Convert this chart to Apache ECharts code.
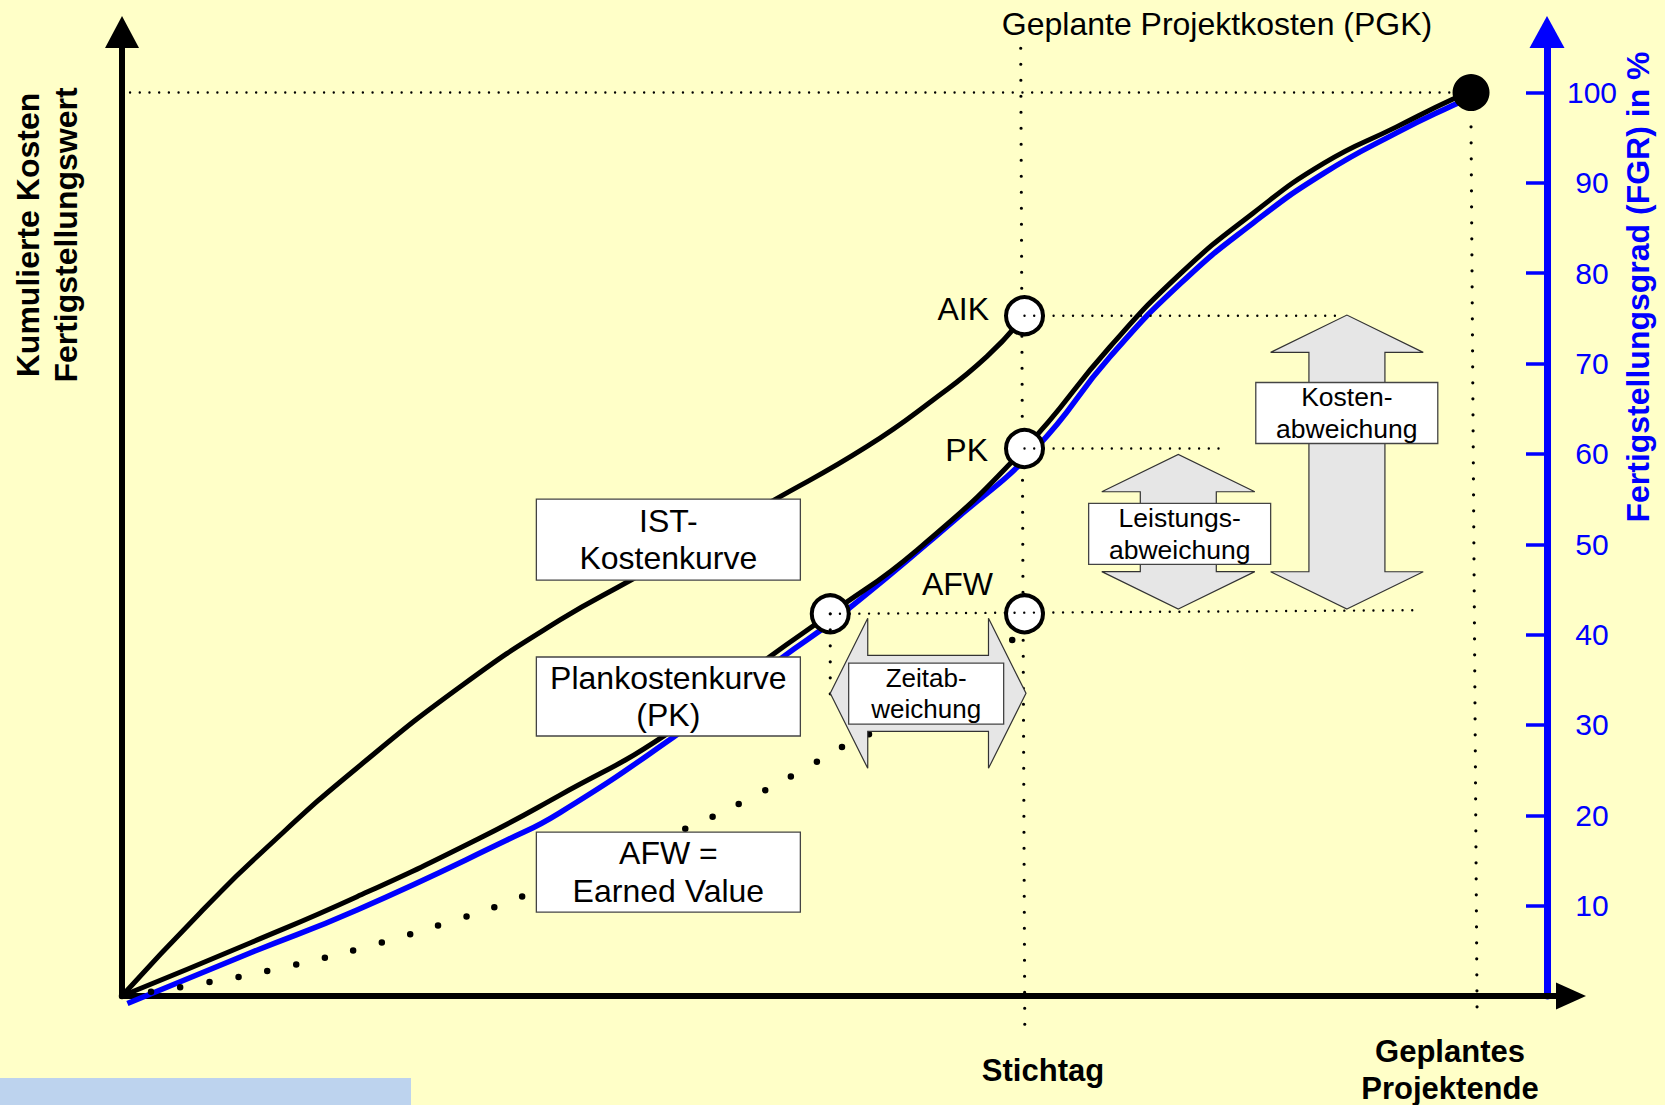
<!DOCTYPE html>
<html><head><meta charset="utf-8">
<script src="https://cdn.jsdelivr.net/npm/echarts@6/dist/echarts.min.js"></script>
<style>html,body{margin:0;padding:0;background:#FFFFC8;}#c{width:1665px;height:1105px;}</style>
</head><body><div id="c"></div>
<script>
// ---------- data (x = Zeit in % der Projektdauer, y = Kosten / FGR in %) ----------
const stichtag = 66.9;
const projektende = 100;
const aikWert = 75.3;
const pkWert = 60.6;
const afwWert = 42.3;
const afwZeitpunkt = 52.5;

const istX = [0, 5.78, 11.34, 17.42, 25.35, 32.47, 37.73, 48.33, 55.20, 60.12, 64.10, 66.9];
const istY = [0, 9.19, 17.27, 25.24, 34.53, 41.62, 46.04, 54.89, 60.80, 65.97, 70.76, 75.3];

const pkX = [0, 9.49, 17.42, 26.43, 32.47, 40.15, 48.09, 52.5, 58.93, 66.9, 73.24, 78.50, 83.84, 89.10, 94.44, 98.67, 100];
const pkY = [0, 5.87, 10.99, 17.40, 22.24, 28.77, 37.63, 42.3, 49.36, 60.6, 71.86, 80.01, 86.65, 92.19, 96.17, 99.28, 100];

const fgrX = [0.40, 9.49, 17.42, 28.54, 32.47, 40.92, 48.88, 53.37, 61.72, 67.75, 73.24, 78.50, 83.84, 89.10, 94.44, 98.67, 99.5];
const fgrY = [-0.83, 4.76, 9.52, 17.26, 20.30, 28.70, 37.40, 42.28, 52.68, 60.65, 70.75, 78.91, 85.55, 91.08, 95.51, 98.60, 99.1];

const afwX = [0, 6.23, 12.53, 18.75, 24.95, 28.99, 42.85, 46.74, 50.53, 54.26, 63.0, 66.9];
const afwY = [0, 1.47, 3.35, 5.72, 8.52, 10.62, 19.22, 22.06, 25.09, 28.22, 34.0, 42.3];

const fgrTicks = [10, 20, 30, 40, 50, 60, 70, 80, 90, 100];
const punktLabels = ['', 'AFW', 'PK', 'AIK'];
const boxTexte = ['IST-\nKostenkurve', 'Plankostenkurve\n(PK)', 'AFW =\nEarned Value', 'Zeitab-\nweichung', 'Leistungs-\nabweichung', 'Kosten-\nabweichung'];

// ---------- layout / style ----------
const FF = '"Liberation Sans", Arial, sans-serif';
const BLUE = '#0000FF';
const X_MAX = 107.41, Y_MAX = 106.7;

const zip = (xs, ys) => xs.map((x, i) => [x, ys[i]]);

const arrowSpecs = [
  { v: [afwZeitpunkt, 33.5, 67.01, 33.5], head: 37.5, headHalf: 75, shaftHalf: 38 },
  { v: [78.3, 42.83, 78.3, 59.95], head: 37.4, headHalf: 76.5, shaftHalf: 38 },
  { v: [90.8, 42.83, 90.8, 75.37], head: 37.3, headHalf: 76.3, shaftHalf: 38 }
];
const boxSpecs = [
  { c: [40.50, 50.51], w: 264, h: 81, fs: 32, lh: 37.5 },
  { c: [40.50, 33.15], w: 264, h: 79, fs: 32, lh: 37.5 },
  { c: [40.50, 13.70], w: 264, h: 80, fs: 32, lh: 37.5 },
  { c: [59.61, 33.47], w: 155, h: 61, fs: 26, lh: 31 },
  { c: [78.40, 51.16], w: 182, h: 61, fs: 26.5, lh: 31.7 },
  { c: [90.79, 64.53], w: 182, h: 61, fs: 26.5, lh: 31.6 }
];

const curve = (name, data, ls, z, smooth) => ({
  type: 'line', name, data, xAxisIndex: 0, yAxisIndex: 0, symbol: 'none', showSymbol: false,
  smooth: smooth === undefined ? 0.5 : smooth, clip: false, z, silent: true, lineStyle: ls
});
const hDots = { color: '#000', width: 2.4, type: [0, 9.7], cap: 'round' };
const vDots = { color: '#000', width: 3.2, type: [0, 16], cap: 'round' };

const punkte = [[afwZeitpunkt, afwWert], [stichtag, afwWert], [stichtag, pkWert], [stichtag, aikWert]];
const labelTweaks = [null, { d: 11, o: [0, -30] }, { d: 16, o: [0, 2] }, { d: 15, o: [0, -7] }];

const option = {
  backgroundColor: '#FFFFC8',
  animation: false,
  grid: [
    { left: 122, right: 94, top: 32, bottom: 109 },
    { left: 122, right: 118, top: 32, bottom: 109 }
  ],
  xAxis: [
    { type: 'value', gridIndex: 0, min: 0, max: X_MAX,
      axisLine: { show: true, symbol: ['none', 'triangle'], symbolSize: [27, 30], lineStyle: { color: '#000', width: 6 } },
      axisTick: { show: false }, axisLabel: { show: false }, splitLine: { show: false } },
    { type: 'value', gridIndex: 1, min: 0, max: 100, show: false }
  ],
  yAxis: [
    { type: 'value', gridIndex: 0, min: 0, max: Y_MAX,
      axisLine: { show: true, symbol: ['none', 'triangle'], symbolSize: [34, 32], lineStyle: { color: '#000', width: 6 } },
      axisTick: { show: false }, axisLabel: { show: false }, splitLine: { show: false } },
    { type: 'value', gridIndex: 1, min: 0, max: Y_MAX, position: 'right',
      axisLine: { show: true, onZero: false, symbol: ['none', 'triangle'], symbolSize: [35, 32], lineStyle: { color: BLUE, width: 7, cap: 'round' } },
      axisTick: { show: true, inside: true, length: 21, customValues: fgrTicks, lineStyle: { color: BLUE, width: 3.5 } },
      axisLabel: { show: true, customValues: fgrTicks, margin: 45, align: 'center', color: BLUE, fontSize: 30, fontFamily: FF },
      splitLine: { show: false } }
  ],
  series: [
    // dotted reference lines (below circles)
    curve('Stichtag', [[66.62, 104.9], [66.92, -3.2]], vDots, 2, false),
    curve('Projektende', [[projektende, 96.2], [100.45, -2.1]], vDots, 2, false),
    curve('PGK', [[-0.84, 100], [projektende, 100]], hDots, 2, false),
    curve('Zeitpunkt AFW', [[afwZeitpunkt, afwWert], [afwZeitpunkt, 32.1]], vDots, 5, false),
    // curves
    curve('FGR', zip(fgrX, fgrY), { color: BLUE, width: 5.5 }, 3),
    curve('PK', zip(pkX, pkY), { color: '#000', width: 5 }, 3),
    curve('IST', zip(istX, istY), { color: '#000', width: 5 }, 3),
    // circles
    { type: 'scatter', xAxisIndex: 0, yAxisIndex: 0, z: 4, silent: true, symbol: 'circle', symbolSize: 37,
      itemStyle: { color: '#fff', borderColor: '#000', borderWidth: 4, opacity: 1 },
      data: punkte.map((p, i) => ({
        value: p,
        label: punktLabels[i] ? { show: true, formatter: punktLabels[i], position: 'left', distance: labelTweaks[i].d, offset: labelTweaks[i].o,
          color: '#000', fontSize: 32, fontFamily: FF } : { show: false }
      })) },
    // horizontal dotted lines from circle centres
    curve('AIK-Linie', [[stichtag, aikWert], [90.5, aikWert]], hDots, 5, false),
    curve('PK-Linie', [[stichtag, pkWert], [81.5, pkWert]], hDots, 5, false),
    curve('AFW-Linie', [[afwZeitpunkt, afwWert], [96.1, 42.7]], hDots, 5, false),
    // AFW curve (big dots)
    curve('AFW', zip(afwX, afwY), { color: '#000', width: 6.5, type: [0, 29.5], cap: 'round' }, 5),
    // arrows
    { type: 'custom', xAxisIndex: 0, yAxisIndex: 0, z: 6, silent: true,
      data: arrowSpecs.map(s => s.v),
      encode: { x: [0, 2], y: [1, 3] },
      renderItem: function (params, api) {
        const s = arrowSpecs[params.dataIndex];
        const p1 = api.coord([api.value(0), api.value(1)]);
        const p2 = api.coord([api.value(2), api.value(3)]);
        const dx = p2[0] - p1[0], dy = p2[1] - p1[1];
        const L = Math.hypot(dx, dy);
        const ux = dx / L, uy = dy / L, nx = -uy, ny = ux;
        const P = (t, n) => [p1[0] + ux * t + nx * n, p1[1] + uy * t + ny * n];
        const h = s.head, H = s.headHalf, S = s.shaftHalf;
        const pts = [P(0, 0), P(h, H), P(h, S), P(L - h, S), P(L - h, H), P(L, 0), P(L - h, -H), P(L - h, -S), P(h, -S), P(h, -H)];
        return { type: 'polygon', shape: { points: pts }, style: { fill: '#E6E6E6', stroke: '#333', lineWidth: 1.2 } };
      } },
    // text boxes
    { type: 'custom', xAxisIndex: 0, yAxisIndex: 0, z: 7, silent: true,
      data: boxSpecs.map(b => b.c),
      encode: { x: 0, y: 1 },
      renderItem: function (params, api) {
        const b = boxSpecs[params.dataIndex];
        const c = api.coord([api.value(0), api.value(1)]);
        return { type: 'group', children: [
          { type: 'rect', shape: { x: c[0] - b.w / 2, y: c[1] - b.h / 2, width: b.w, height: b.h },
            style: { fill: '#fff', stroke: '#444', lineWidth: 1.3 } },
          { type: 'text', x: c[0], y: c[1],
            style: { text: boxTexte[params.dataIndex], x: 0, y: 0, align: 'center', verticalAlign: 'middle',
              textAlign: 'center', textVerticalAlign: 'middle', fontSize: b.fs, fontFamily: FF, lineHeight: b.lh, fill: '#000' } }
        ] };
      } },
    // end point
    { type: 'scatter', xAxisIndex: 0, yAxisIndex: 0, z: 8, silent: true, symbol: 'circle', symbolSize: 37,
      itemStyle: { color: '#000', opacity: 1 }, data: [[projektende, 100]] }
  ],
  graphic: [
    { type: 'rect', left: 0, top: 1078, shape: { width: 411, height: 27 }, style: { fill: '#BDD3EE' }, silent: true },
    { type: 'text', x: 1217, y: 23.5, style: { text: 'Geplante Projektkosten (PGK)', align: 'center', verticalAlign: 'middle', textAlign: 'center', textVerticalAlign: 'middle', fontSize: 32, fontFamily: FF, fill: '#000' } },
    { type: 'text', x: 1043, y: 1070, style: { text: 'Stichtag', align: 'center', verticalAlign: 'middle', textAlign: 'center', textVerticalAlign: 'middle', fontSize: 31, fontWeight: 'bold', fontFamily: FF, fill: '#000' } },
    { type: 'text', x: 1450, y: 1070, style: { text: 'Geplantes\nProjektende', align: 'center', verticalAlign: 'middle', textAlign: 'center', textVerticalAlign: 'middle', fontSize: 31, fontWeight: 'bold', fontFamily: FF, lineHeight: 37.5, fill: '#000' } },
    { type: 'text', x: 47, y: 235, rotation: Math.PI / 2, style: { text: 'Kumulierte Kosten\nFertigstellungswert', align: 'center', verticalAlign: 'middle', textAlign: 'center', textVerticalAlign: 'middle', fontSize: 32, fontWeight: 'bold', fontFamily: FF, lineHeight: 38, fill: '#000' } },
    { type: 'text', x: 1638, y: 287, rotation: Math.PI / 2, style: { text: 'Fertigstellungsgrad (FGR) in %', align: 'center', verticalAlign: 'middle', textAlign: 'center', textVerticalAlign: 'middle', fontSize: 32, fontWeight: 'bold', fontFamily: FF, fill: BLUE } }
  ]
};

const chart = echarts.init(document.getElementById('c'), null, { renderer: 'svg', width: 1665, height: 1105 });
chart.setOption(option);
</script>
</body></html>
